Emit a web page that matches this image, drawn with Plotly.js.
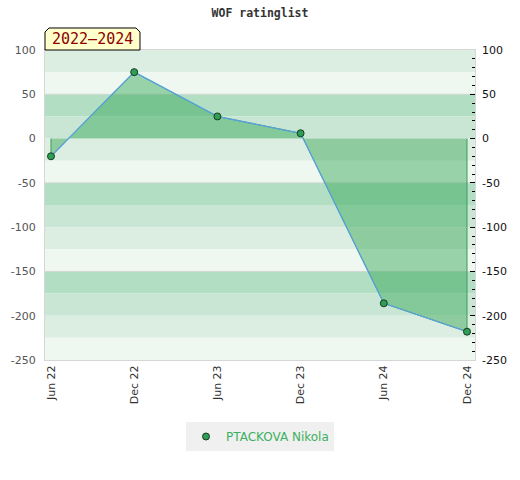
<!DOCTYPE html>
<html>
<head>
<meta charset="utf-8">
<script src="https://cdn.plot.ly/plotly-3.0.1.min.js"></script>
<style>html,body{margin:0;padding:0;background:#fff;}#chart{width:520px;height:480px;}</style>
</head>
<body>
<div id="chart"></div>
<script>
// ---- data ----
const periods = ['Jun 22', 'Dec 22', 'Jun 23', 'Dec 23', 'Jun 24', 'Dec 24'];
const ratingChange = [-20, 75, 25, 6, -186, -218];
const playerName = 'PTACKOVA Nikola';
const chartTitle = 'WOF ratinglist';
const periodLabel = '2022\u20132024';
const yTicks = [100, 50, 0, -50, -100, -150, -200, -250];
const yTickText = ['100', '50', '0', '-50', '-100', '-150', '-200', '-250'];

// ---- background bands (style) ----
const bandColors = ['#dcede1', '#eff7f1', '#b2dec3', '#c8e6d3']; // from top within each 100 block
const shapes = [];
for (let top = 100; top > -250; top -= 25) {
  const idx = (((100 - top) / 25) % 4 + 4) % 4;
  shapes.push({type: 'rect', xref: 'paper', yref: 'y', x0: 0, x1: 1, y0: top - 25, y1: top,
    fillcolor: bandColors[idx], line: {width: 0}, layer: 'below'});
}
[50, -50, -150].forEach(v => shapes.push({type: 'line', xref: 'paper', yref: 'y', x0: 0, x1: 1, y0: v, y1: v,
  line: {color: '#d2d8d3', width: 1}, layer: 'below'}));
// label box with cut corners
shapes.push({type: 'path', xref: 'paper', yref: 'paper',
  path: 'M 0 1 L 0 1.058 L 0.0093 1.071 L 0.2116 1.071 L 0.2209 1.058 L 0.2209 1 Z',
  fillcolor: '#ffffcc', line: {color: '#000', width: 1}});

// polygon closed at zero
const polyX = [periods[0]].concat(periods, [periods[periods.length - 1]]);
const polyY = [0].concat(ratingChange, [0]);

const traces = [
  {x: polyX, y: polyY, type: 'scatter', mode: 'lines', fill: 'toself',
   fillcolor: 'rgba(56,167,87,0.47)', line: {color: '#3d9c5c', width: 1}, showlegend: false, hoverinfo: 'skip'},
  {x: periods, y: ratingChange, type: 'scatter', mode: 'lines',
   line: {color: '#5aa2dc', width: 1.3}, showlegend: false},
  {x: periods, y: ratingChange, type: 'scatter', mode: 'markers', name: playerName,
   marker: {color: '#2e9e55', size: 7, line: {color: '#1a3a22', width: 1}}},
  {x: periods, y: ratingChange, type: 'scatter', mode: 'none', yaxis: 'y2', showlegend: false, hoverinfo: 'skip'}
];

const layout = {
  width: 520, height: 480,
  margin: {l: 45, r: 45, t: 50, b: 120},
  paper_bgcolor: '#fff', plot_bgcolor: '#fff',
  font: {family: 'DejaVu Sans', size: 11, color: '#333'},
  title: {text: chartTitle, x: 0.5, xanchor: 'center', y: 0.973, yanchor: 'middle', yref: 'container',
    font: {family: 'DejaVu Sans Mono', size: 11.5, color: '#333', weight: 'bold'}},
  xaxis: {type: 'category', range: [-0.072, 5.096], tickangle: -90, showgrid: false, zeroline: false,
    showline: true, linecolor: '#d6d6d6', mirror: true, ticks: '', tickfont: {size: 11, color: '#333'}},
  yaxis: {range: [-250, 100], tickmode: 'array', tickvals: yTicks, ticktext: yTickText, showgrid: false, zeroline: false, ticks: '',
    showline: true, linecolor: '#d6d6d6', mirror: true, tickfont: {size: 11, color: '#555'}, ticklabelstandoff: 6},
  yaxis2: {range: [-250, 100], overlaying: 'y', side: 'right', tickmode: 'array', tickvals: yTicks, ticktext: yTickText,
    showgrid: false, zeroline: false,
    ticks: 'inside', ticklen: 5, tickcolor: '#000', tickwidth: 1,
    minor: {dtick: 10, tick0: 0, ticks: 'inside', ticklen: 3, tickcolor: '#000', tickwidth: 1, showgrid: false},
    tickfont: {size: 11, color: '#111'}, ticklabelstandoff: 6, showline: false},
  legend: {orientation: 'h', x: 0.5, xanchor: 'center', y: -0.2, yanchor: 'top', bgcolor: '#f0f0f0',
    font: {size: 12, color: '#3cb060'}},
  shapes: shapes,
  annotations: [{text: periodLabel, xref: 'paper', yref: 'paper', x: 0.1105, y: 1.0355, xanchor: 'center', yanchor: 'middle',
    showarrow: false, font: {family: 'DejaVu Sans Mono', size: 15, color: '#8b0000'}}]
};

Plotly.newPlot('chart', traces, layout, {displayModeBar: false, staticPlot: true});
</script>
</body>
</html>
